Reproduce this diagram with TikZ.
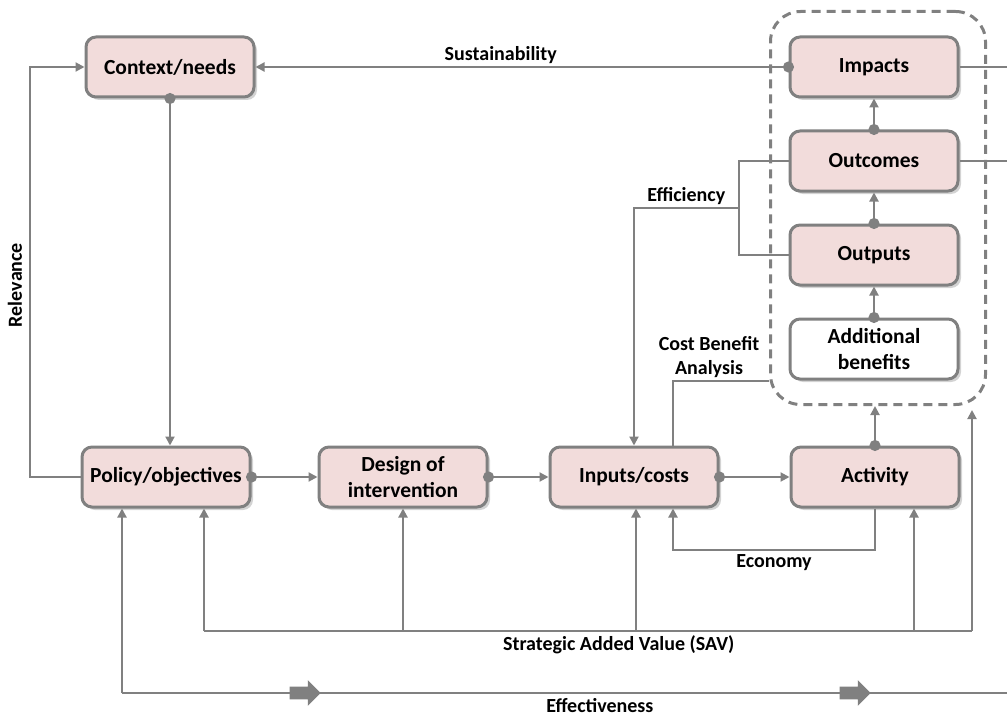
\documentclass[tikz,border=0pt]{standalone}
\usepackage{fontspec}
\setmainfont{Carlito}
\usetikzlibrary{
  arrows.meta,
  positioning,
  calc,
  shadows,
  shapes.arrows
}
\definecolor{evgrey}{RGB}{128,128,128}
\definecolor{evpink}{RGB}{242,220,219}

\begin{document}
\begin{tikzpicture}[
  x=0.5pt, y=-0.5pt,
  box/.style={
    rectangle, rounded corners=5pt,
    draw=evgrey, fill=evpink, line width=1.5pt,
    minimum width=84pt, minimum height=30pt,
    align=center, inner sep=2pt,
    font=\bfseries\fontsize{10.75}{13}\selectfont,
    drop shadow={shadow xshift=1.5pt, shadow yshift=-1.5pt, opacity=0.35}
  },
  region/.style={
    rectangle, rounded corners=15pt,
    draw=evgrey, line width=1.5pt, dash pattern=on 4.5pt off 3pt,
    minimum width=107.5pt, minimum height=196.5pt
  },
  lbl/.style={font=\bfseries\fontsize{10}{12}\selectfont, inner sep=1pt, align=center},
  line/.style={draw=evgrey, line width=1pt},
  flow/.style={line, -{Triangle[length=4.5pt,width=4.5pt]}},
  dotflow/.style={line, {Circle[length=5.5pt]}-{Triangle[length=4.5pt,width=4.5pt]}, shorten <=-2.75pt},
  blockarrow/.style={single arrow, fill=evgrey, minimum height=15.5pt,
    inner sep=3pt, single arrow head extend=3.25pt}
]
  \useasboundingbox (0,0) rectangle (1007,717);

  % top row and result column
  \node[box] (ctx) at (170,67) {Context/needs};
  \node[box] (impacts) at (874,67) {Impacts};
  \node[box, below=15.5pt of impacts] (outcomes) {Outcomes};
  \node[box, below=15.5pt of outcomes] (outputs) {Outputs};
  \node[box, fill=white, below=15.5pt of outputs] (addben) {Additional\\benefits};
  \node[region] (results) at (878,208) {};

  % bottom row
  \node[box] (policy) at (166,477) {Policy/objectives};
  \node[box, right=33pt of policy] (design) {Design of\\intervention};
  \node[box, right=30pt of design] (inputs) {Inputs/costs};
  \node[box, right=35pt of inputs] (activity) {Activity};

  \coordinate (rel) at (30,67);
  \coordinate (rim) at (1007,0);
  \coordinate (savL) at (204,631);
  \coordinate (savR) at (972,631);
  \coordinate (effL) at (122,693);
  \coordinate (eff) at ($(outcomes.west)!0.5!(outputs.west)+(-25pt,0)$);

  % main chain
  \draw[dotflow] (ctx.south) -- (ctx.south |- policy.north);
  \draw[dotflow] (policy.east) -- (design.west);
  \draw[dotflow] (design.east) -- (inputs.west);
  \draw[dotflow] (inputs.east) -- (activity.west);
  \draw[dotflow] (activity.north) -- (activity.north |- results.south);
  \draw[dotflow] (addben.north) -- (outputs.south);
  \draw[dotflow] (outputs.north) -- (outcomes.south);
  \draw[dotflow] (outcomes.north) -- (impacts.south);

  % relevance and sustainability
  \draw[flow] (policy.west) -| (rel) -- (ctx.west);
  \node[lbl, rotate=90] (relevance) at (15,285) {Relevance};
  \draw[dotflow] (impacts.west) -- node[lbl, above, pos=0.54] {Sustainability} (ctx.east);
  \draw[line] (impacts.east) -- (impacts.east -| rim);
  \draw[line] (outcomes.east) -- (outcomes.east -| rim);

  % efficiency, cost benefit, economy
  \draw[line] (outcomes.west) -| ([xshift=-25pt]outputs.west) -- (outputs.west);
  \draw[flow] (eff) -| node[lbl, above, pos=0.25] {Efficiency} (inputs.north);
  \draw[line] ([xshift=19.5pt]inputs.north) |- node[lbl, above, pos=0.75, xshift=-6pt] {Cost Benefit\\Analysis} (results.west |- addben.south);
  \draw[flow] (activity.south) -- ++(0,-20.5pt) -| node[lbl, below, pos=0.25, yshift=-1pt] {Economy} ([xshift=19.5pt]inputs.south);

  % strategic added value
  \draw[line] (savL) -- node[lbl, below, pos=0.54, yshift=-1pt] {Strategic Added Value (SAV)} (savR);
  \draw[flow] (savL) -- (savL |- policy.south);
  \draw[flow] (design.south |- savL) -- (design.south);
  \draw[flow] ([xshift=1pt]inputs.south |- savL) -- ([xshift=1pt]inputs.south);
  \draw[flow] ([xshift=19.5pt]activity.south |- savL) -- ([xshift=19.5pt]activity.south);
  \draw[flow] (savR) -- ([yshift=-2pt]savR |- results.south);

  % effectiveness
  \draw[flow] (effL) -- (effL |- policy.south);
  \draw[line] (effL) -- node[lbl, below, pos=0.54, yshift=-1pt] {Effectiveness} (effL -| rim);
  \node[blockarrow] (push1) at (302,693) {};
  \node[blockarrow] (push2) at (852,693) {};
\end{tikzpicture}
\end{document}
